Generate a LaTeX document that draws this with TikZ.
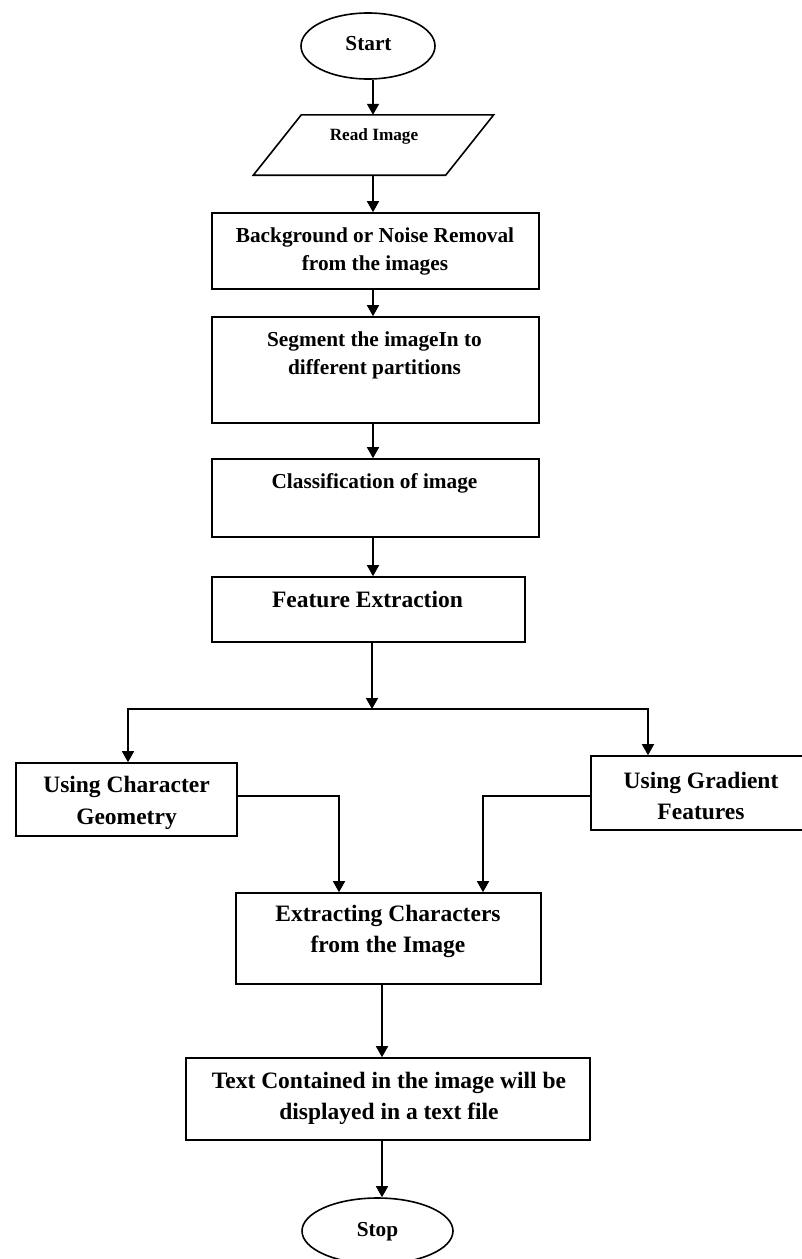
\documentclass[tikz,border=0pt]{standalone}
\usepackage{fontspec}
\setmainfont{Liberation Serif}
\usetikzlibrary{arrows.meta,shapes.geometric}

\begin{document}
\begin{tikzpicture}[x=1pt,y=-1pt,
  box/.style={draw, line width=1.6pt, rectangle, inner sep=0pt},
  term/.style={draw, line width=1.6pt, ellipse, inner sep=0pt},
  lbl/.style={align=center, inner sep=0pt, font=\bfseries\fontsize{21.3}{28}\selectfont},
  lblbig/.style={align=center, inner sep=0pt, font=\bfseries\fontsize{23.5}{31.5}\selectfont},
  lblsmall/.style={align=center, inner sep=0pt, font=\bfseries\fontsize{17.2}{22}\selectfont},
  arr/.style={line width=1.6pt, -{Triangle[length=11pt,width=12pt]}}]

\useasboundingbox (0,0) rectangle (801,1259);

% terminals and process boxes
\node[term, minimum width=134pt, minimum height=66pt] (start) at (368,46) {};
\node[lbl] (start-t) at (368.5,44) {Start};

% input parallelogram: frame node plus slanted outline
\node[inner sep=0pt, minimum width=192pt, minimum height=60pt] (read) at (373.5,145) {};
\draw[line width=1.6pt, line join=miter]
  ([xshift=24pt]read.north west) -- ([xshift=24pt]read.north east) --
  ([xshift=-24pt]read.south east) -- ([xshift=-24pt]read.south west) -- cycle;
\node[lblsmall] (read-t) at (374,136) {Read Image};

\node[box, minimum width=327pt, minimum height=76pt] (bg) at (375.5,251) {};
\node[lbl] (bg-t) at (375,251) {Background or Noise Removal\\from the images};

\node[box, minimum width=327pt, minimum height=106pt] (seg) at (375.5,370) {};
\node[lbl] (seg-t) at (374.5,355) {Segment the imageIn to\\different partitions};

\node[box, minimum width=327pt, minimum height=78pt] (cls) at (375.5,498) {};
\node[lbl] (cls-t) at (374.5,483) {Classification of image};

\node[box, minimum width=313pt, minimum height=65pt] (feat) at (368.5,609.5) {};
\node[lblbig] (feat-t) at (367.5,599) {Feature Extraction};

\node[box, minimum width=221pt, minimum height=73pt] (geom) at (126.5,799.5) {};
\node[lblbig] (geom-t) at (126.5,803) {Using Character\\Geometry};

\node[box, minimum width=220pt, minimum height=74pt] (grad) at (701,793) {};
\node[lblbig] (grad-t) at (701,796) {Using Gradient\\Features};

\node[box, minimum width=305pt, minimum height=91pt] (extr) at (388.5,938.5) {};
\node[lblbig] (extr-t) at (388,931.5) {Extracting Characters\\from the Image};

\node[box, minimum width=404pt, minimum height=82pt] (txt) at (388,1099) {};
\node[lblbig] (txt-t) at (389,1098.5) {Text Contained in the image will be\\displayed in a text file};

\node[term, minimum width=151pt, minimum height=66pt] (stop) at (377.5,1231) {};
\node[lbl] (stop-t) at (377.5,1232) {Stop};

% connector columns
\coordinate (col) at (373,0);
\coordinate (split) at (372,709);
\coordinate (lcol) at (128,709);
\coordinate (rcol) at (648,709);
\coordinate (gx) at (339,0);
\coordinate (gx2) at (483,0);
\coordinate (col2) at (382,0);

% main flow
\draw[arr] (start.south -| col) -- (read.north -| col);
\draw[arr] (read.south -| col) -- (bg.north -| col);
\draw[arr] (bg.south -| col) -- (seg.north -| col);
\draw[arr] (seg.south -| col) -- (cls.north -| col);
\draw[arr] (cls.south -| col) -- (feat.north -| col);
\draw[arr] (feat.south -| split) -- (split);

% branches
\draw[arr] (split) -| (lcol |- geom.north);
\draw[arr] (split) -| (rcol |- grad.north);
\draw[arr] (geom.east |- 0,796) -| (gx |- extr.north);
\draw[arr] (grad.west |- 0,796) -| (gx2 |- extr.north);

% final steps
\draw[arr] (extr.south -| col2) -- (txt.north -| col2);
\draw[arr] (txt.south -| col2) -- (stop.north -| col2);
\end{tikzpicture}
\end{document}
